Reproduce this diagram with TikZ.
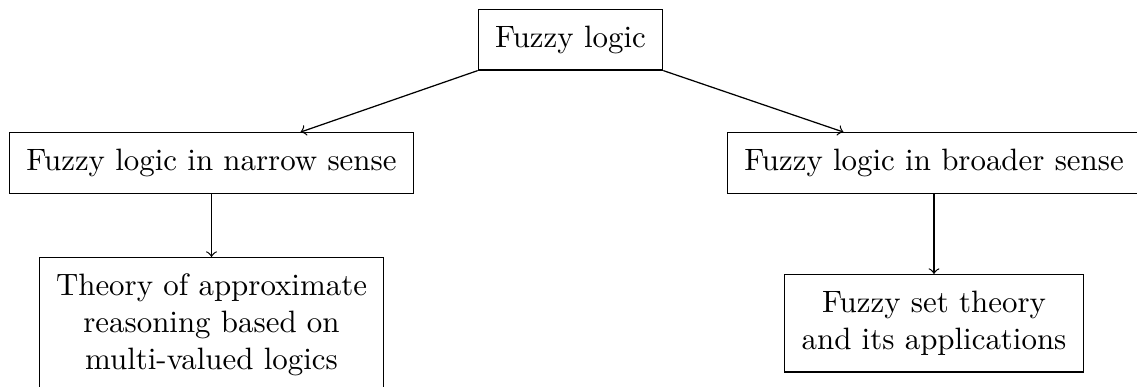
\documentclass[tikz,border=0pt]{standalone}
\usetikzlibrary{positioning}
\begin{document}
\begin{tikzpicture}[x=0.3236pt, y=-0.3236pt,
  box/.style={draw, rectangle, inner xsep=5.45pt, inner ysep=5.3pt, align=center},
  link/.style={->}]
  \useasboundingbox (0,0) rectangle (1137,387);
  \node[box] (root) at (570.5,39.7) {Fuzzy logic};
  \node[box] (narrow) at (211.5,163) {Fuzzy logic in narrow sense};
  \node[box] (broad) at (934,163) {Fuzzy logic in broader sense};
  \node[box, anchor=north] (reason) at (211.5,257) {Theory of approximate\\reasoning based on\\multi-valued logics};
  \node[box, anchor=north] (fset) at (934,274) {Fuzzy set theory\\and its applications};
  \draw[link] (root.south west) -- (narrow);
  \draw[link] (root.south east) -- (broad);
  \draw[link] (narrow) -- (reason);
  \draw[link] (broad) -- (fset);
\end{tikzpicture}
\end{document}
